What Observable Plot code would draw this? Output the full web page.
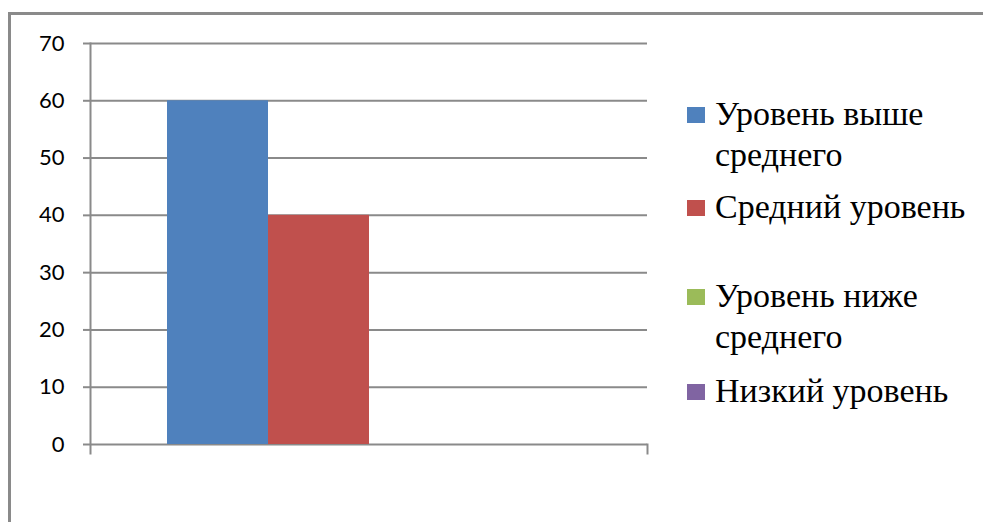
<!DOCTYPE html>
<html>
<head>
<meta charset="utf-8">
<script src="https://cdn.jsdelivr.net/npm/d3@7"></script>
<script src="https://cdn.jsdelivr.net/npm/@observablehq/plot@0.6"></script>
<style>
  html, body { margin: 0; padding: 0; background: #fff; }
  #chart { position: relative; width: 983px; height: 522px; overflow: hidden; }
  #box { position: absolute; left: 8px; top: 12px; right: -10px; bottom: -10px;
         border-left: 3px solid #8a8a8a; border-top: 3px solid #8a8a8a; }
  #plot { position: absolute; left: 0; top: 0; }
  .legend-item { position: absolute; left: 687px; width: 296px;
                 font-family: "Liberation Serif", "Times New Roman", serif;
                 font-size: 34px; line-height: 41px; color: #000; }
  .legend-item .sw { position: absolute; left: 0; top: 14px; width: 18px; height: 16px; }
  .legend-item .txt { display: block; margin-left: 28px; width: 265px; }
</style>
</head>
<body>
<div id="chart">
  <div id="box"></div>
  <div id="plot"></div>
</div>
<script>
// Share of pupils at each level, percent
const series = ["Уровень выше среднего", "Средний уровень", "Уровень ниже среднего", "Низкий уровень"];
const values = [60, 40, 0, 0];
const colors = ["#4F81BD", "#C0504D", "#9BBB59", "#8064A2"];
const yTicks = [0, 10, 20, 30, 40, 50, 60, 70];
// top edge of each legend entry
const legendTops = [93, 186, 275, 370];

const data = series.map((s, i) => ({series: s, value: values[i]}));

const width = 983, height = 522;
const mt = 43, mr = 336, mb = 78, ml = 90;
const innerH = height - mt - mb;
const axisColor = "#8a8a8a";

const chart = Plot.plot({
  width, height,
  marginTop: mt, marginRight: mr, marginBottom: mb, marginLeft: ml,
  style: {fontFamily: "Lato, 'Liberation Sans', sans-serif", fontSize: "22px", color: "#000", background: "transparent"},
  x: {domain: series, paddingInner: 0, paddingOuter: 0.75, axis: null},
  y: {domain: [0, 70], ticks: yTicks, label: null},
  color: {domain: series, range: colors},
  marks: [
    Plot.gridY(yTicks, {stroke: axisColor, strokeOpacity: 1, strokeWidth: 2}),
    Plot.axisY(yTicks, {label: null, tickSize: 7, tickPadding: 19, stroke: axisColor, strokeWidth: 2, fill: "#000", fontSize: 22}),
    Plot.barY(data, {x: "series", y: "value", fill: "series"}),
    Plot.frame({anchor: "left", stroke: axisColor, strokeWidth: 2, insetBottom: -9}),
    Plot.frame({anchor: "right", stroke: axisColor, strokeWidth: 2, insetTop: innerH, insetBottom: -9})
  ]
});
document.getElementById("plot").appendChild(chart);

// Legend to the right of the plot
const chartDiv = document.getElementById("chart");
series.forEach((s, i) => {
  const item = document.createElement("div");
  item.className = "legend-item";
  item.style.top = legendTops[i] + "px";
  const sw = document.createElement("span");
  sw.className = "sw";
  sw.style.background = colors[i];
  const txt = document.createElement("span");
  txt.className = "txt";
  txt.textContent = s;
  item.appendChild(sw);
  item.appendChild(txt);
  chartDiv.appendChild(item);
});
</script>
</body>
</html>
